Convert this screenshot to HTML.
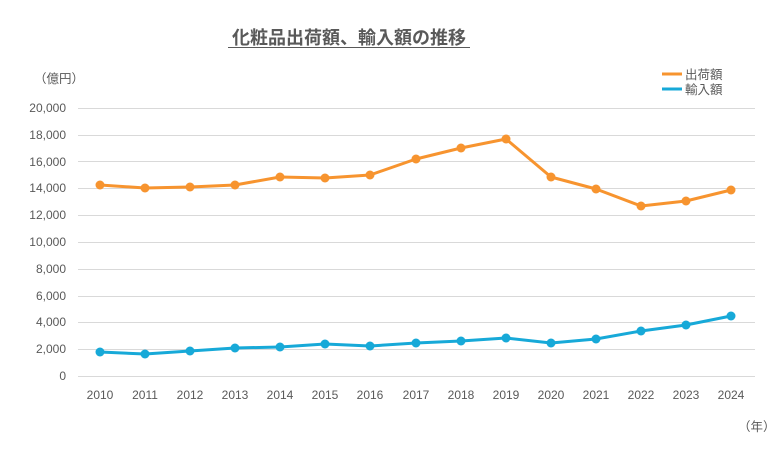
<!DOCTYPE html>
<html><head><meta charset="utf-8"><style>
body{margin:0;background:#fff;}
svg text{font-family:"Liberation Sans","Noto Sans CJK JP",sans-serif;fill:#595959;}
</style></head><body>
<svg width="784" height="453" viewBox="0 0 784 453" xmlns="http://www.w3.org/2000/svg">
<text x="349" y="44" font-size="18" font-weight="bold" text-anchor="middle">化粧品出荷額、輸入額の推移</text>
<line x1="228" y1="47.5" x2="470" y2="47.5" stroke="#595959" stroke-width="1"/>
<text x="34" y="83" font-size="12.5">（億円）</text>
<text x="738" y="431" font-size="12.5">（年）</text>
<g stroke="#d9d9d9" stroke-width="1">
<line x1="78" y1="108.5" x2="755" y2="108.5"/><line x1="78" y1="135.5" x2="755" y2="135.5"/>
<line x1="78" y1="161.5" x2="755" y2="161.5"/><line x1="78" y1="188.5" x2="755" y2="188.5"/>
<line x1="78" y1="215.5" x2="755" y2="215.5"/><line x1="78" y1="242.5" x2="755" y2="242.5"/>
<line x1="78" y1="269.5" x2="755" y2="269.5"/><line x1="78" y1="296.5" x2="755" y2="296.5"/>
<line x1="78" y1="322.5" x2="755" y2="322.5"/><line x1="78" y1="349.5" x2="755" y2="349.5"/>
<line x1="78" y1="376.5" x2="755" y2="376.5"/>
</g>
<g font-size="12" text-anchor="end">
<text x="66" y="112">20,000</text><text x="66" y="139">18,000</text><text x="66" y="166">16,000</text>
<text x="66" y="192">14,000</text><text x="66" y="219">12,000</text><text x="66" y="246">10,000</text>
<text x="66" y="273">8,000</text><text x="66" y="300">6,000</text><text x="66" y="326">4,000</text>
<text x="66" y="353">2,000</text><text x="66" y="380">0</text>
</g>
<g font-size="12" text-anchor="middle">
<text x="100" y="399">2010</text><text x="145" y="399">2011</text><text x="190" y="399">2012</text>
<text x="235" y="399">2013</text><text x="280" y="399">2014</text><text x="325" y="399">2015</text>
<text x="370" y="399">2016</text><text x="416" y="399">2017</text><text x="461" y="399">2018</text>
<text x="506" y="399">2019</text><text x="551" y="399">2020</text><text x="596" y="399">2021</text>
<text x="641" y="399">2022</text><text x="686" y="399">2023</text><text x="731" y="399">2024</text>
</g>
<polyline fill="none" stroke="#f7942f" stroke-width="3" stroke-linejoin="round" points="100,185 145,188 190,187 235,185 280,177 325,178 370,175 416,159 461,148 506,139 551,177 596,189 641,206 686,201 731,190"/>
<g fill="#f7942f">
<circle cx="100" cy="185" r="4.5"/><circle cx="145" cy="188" r="4.5"/><circle cx="190" cy="187" r="4.5"/><circle cx="235" cy="185" r="4.5"/><circle cx="280" cy="177" r="4.5"/><circle cx="325" cy="178" r="4.5"/><circle cx="370" cy="175" r="4.5"/><circle cx="416" cy="159" r="4.5"/><circle cx="461" cy="148" r="4.5"/><circle cx="506" cy="139" r="4.5"/><circle cx="551" cy="177" r="4.5"/><circle cx="596" cy="189" r="4.5"/><circle cx="641" cy="206" r="4.5"/><circle cx="686" cy="201" r="4.5"/><circle cx="731" cy="190" r="4.5"/>
</g>
<polyline fill="none" stroke="#17a9d8" stroke-width="3" stroke-linejoin="round" points="100,352 145,354 190,351 235,348 280,347 325,344 370,346 416,343 461,341 506,338 551,343 596,339 641,331 686,325 731,316"/>
<g fill="#17a9d8">
<circle cx="100" cy="352" r="4.5"/><circle cx="145" cy="354" r="4.5"/><circle cx="190" cy="351" r="4.5"/><circle cx="235" cy="348" r="4.5"/><circle cx="280" cy="347" r="4.5"/><circle cx="325" cy="344" r="4.5"/><circle cx="370" cy="346" r="4.5"/><circle cx="416" cy="343" r="4.5"/><circle cx="461" cy="341" r="4.5"/><circle cx="506" cy="338" r="4.5"/><circle cx="551" cy="343" r="4.5"/><circle cx="596" cy="339" r="4.5"/><circle cx="641" cy="331" r="4.5"/><circle cx="686" cy="325" r="4.5"/><circle cx="731" cy="316" r="4.5"/>
</g>
<line x1="662" y1="74" x2="682" y2="74" stroke="#f7942f" stroke-width="3"/>
<text x="685" y="79" font-size="12.5">出荷額</text>
<line x1="662" y1="89" x2="682" y2="89" stroke="#17a9d8" stroke-width="3"/>
<text x="685" y="94" font-size="12.5">輸入額</text>
</svg>
</body></html>
